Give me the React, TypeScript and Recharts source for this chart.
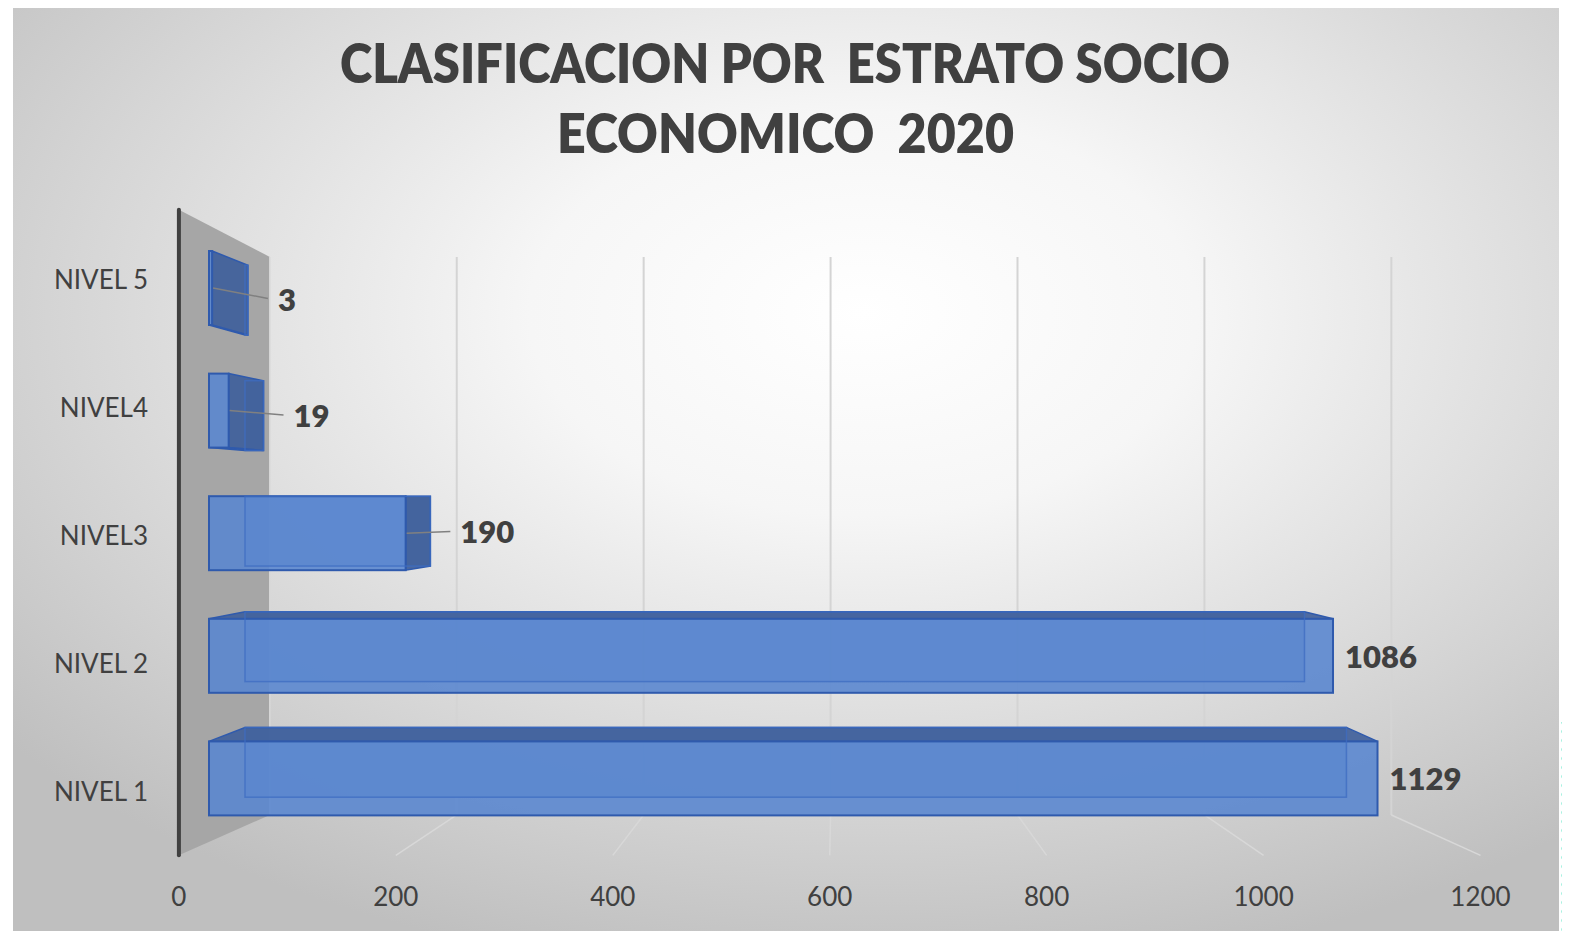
import React from 'react';
import { BarChart, Bar, XAxis, YAxis, CartesianGrid, LabelList } from 'recharts';

// ---- data ----
const categories = ['NIVEL 1', 'NIVEL 2', 'NIVEL3', 'NIVEL4', 'NIVEL 5'];
const values = [1129, 1086, 190, 19, 3];
const xTicks = [0, 200, 400, 600, 800, 1000, 1200];
const titleLines = ['CLASIFICACION POR  ESTRATO SOCIO', 'ECONOMICO  2020'];

const data = categories.map((name, i) => ({ name, value: values[i] }));

// ---- layout / perspective ----
const CHART_LEFT = 13;
const CHART_TOP = 5;
const W = 1546;
const H = 934;
const VX = 823;
const VY = 493;
const S_BACK_BAR = 0.9426;
const S_WALL = 0.903;
const S_FLOOR = 1.048;
const S_SIDE = 1.045;
const FONT = 'Lato, "Open Sans", sans-serif';
const TEXT = '#404040';

const proj = (x: number, y: number, s: number): [number, number] => [VX + (x - VX) * s, VY + (y - VY) * s];

const gridLine = (p: any) => {
  const { x1, y1, y2, index } = p;
  const top = y1 + 4;
  const bot = y2 + 9;
  const [bx, bt] = proj(x1, top, S_WALL);
  const [, bb] = proj(x1, bot, S_WALL);
  const [fx, fb] = proj(x1, y2 - 1, S_FLOOR);
  if (index === 0) {
    const [wx, wt] = proj(x1, y1 - 4, S_FLOOR);
    return (
      <g key={`g-${index}`}>
        <polygon points={`${wx},${wt} ${bx},${bt} ${bx},${bb} ${wx},${fb}`} fill="#a6a6a6" />
        <line x1={bx} y1={bt} x2={bx} y2={bb} stroke="#d9d9d9" strokeWidth={1.5} />
        <line x1={wx} y1={wt} x2={wx} y2={fb} stroke="#404040" strokeWidth={4} strokeLinecap="round" />
      </g>
    );
  }
  return (
    <g key={`g-${index}`}>
      <line x1={bx} y1={bt} x2={bx} y2={bb} stroke="#d4d4d4" strokeWidth={2} />
      <line x1={bx} y1={bb} x2={fx} y2={fb} stroke="#d8d8d8" strokeWidth={1.5} />
    </g>
  );
};

const FRONT = '#5b87cf';
const SIDE = '#41619b';
const EDGE = '#2f5aad';

const Box3D = (p: any) => {
  const { x, y, width, height } = p;
  if (width == null || height == null) return null;
  const x2 = x + width;
  const y2 = y + height;
  const [bx0, by0] = proj(x, y, S_BACK_BAR);
  const [bx1, by1] = proj(x2, y2, S_BACK_BAR);
  const faces: any[] = [];
  if (by0 < y) {
    faces.push(<polygon key="t" points={`${x},${y} ${x2},${y} ${bx1},${by0} ${bx0},${by0}`} fill={SIDE} fillOpacity={0.92} stroke={EDGE} strokeWidth={1.5} />);
  }
  if (by1 > y2) {
    faces.push(<polygon key="b" points={`${x},${y2} ${x2},${y2} ${bx1},${by1} ${bx0},${by1}`} fill={SIDE} fillOpacity={0.92} stroke={EDGE} strokeWidth={1.5} />);
  }
  if (bx1 > x2) {
    faces.push(<polygon key="r" points={`${x2},${y} ${bx1},${by0} ${bx1},${by1} ${x2},${y2}`} fill={SIDE} fillOpacity={0.95} stroke={EDGE} strokeWidth={1.5} />);
  }
  return (
    <g>
      <rect x={bx0} y={by0} width={Math.max(bx1 - bx0, 0.5)} height={by1 - by0} fill="#4f7cc8" fillOpacity={0.7} />
      {faces}
      <rect x={x} y={y} width={Math.max(width, 0.5)} height={height} fill={FRONT} fillOpacity={0.9} stroke={EDGE} strokeWidth={2} />
      <rect x={bx0} y={by0} width={Math.max(bx1 - bx0, 0.5)} height={by1 - by0} fill="none" stroke="#3e6cc2" strokeOpacity={0.75} strokeWidth={1.5} />
    </g>
  );
};

const renderLabel = (p: any) => {
  const vb = p.viewBox && p.viewBox.width != null ? p.viewBox : p;
  const { x, y, width, height } = vb;
  const value = p.value;
  if (x == null) return null;
  const fx = x + width;
  const cy = y + height / 2;
  const [bx1] = proj(fx, y + height, S_BACK_BAR);
  const style = { fontFamily: FONT, fontWeight: 800, fontSize: 31, fill: TEXT } as any;
  if (bx1 <= fx + 1) {
    return (
      <text x={fx + 12} y={cy} dominantBaseline="central" style={style}>
        {value}
      </text>
    );
  }
  const [, ly] = proj(fx, cy, 0.95);
  const ex = bx1 + 20;
  return (
    <g>
      <line x1={fx + 1} y1={cy} x2={ex} y2={ly} stroke="#808080" strokeWidth={1.5} />
      <text x={ex + 10} y={ly} dominantBaseline="central" style={style}>
        {value}
      </text>
    </g>
  );
};

const XTick = (p: any) => {
  const [tx] = proj(p.x, 0, S_FLOOR);
  return (
    <text x={tx} y={891} textAnchor="middle" dominantBaseline="central" style={{ fontFamily: FONT, fontSize: 26, fill: TEXT }}>
      {p.payload.value}
    </text>
  );
};

const YTick = (p: any) => {
  const [, ty] = proj(0, p.y, S_SIDE);
  return (
    <text x={135} y={ty} textAnchor="end" dominantBaseline="central" style={{ fontFamily: FONT, fontSize: 26, fill: TEXT }}>
      {p.payload.value}
    </text>
  );
};

export default function App() {
  return (
    <div style={{ position: 'relative', width: 1554, height: 923 }}>
      <svg width={1570} height={939} style={{ position: 'absolute', left: -8, top: -8 }}>
        <defs>
          <radialGradient id="bg" cx="0.55" cy="0.33" r="0.72">
            <stop offset="0" stopColor="#ffffff" />
            <stop offset="0.3" stopColor="#f6f6f6" />
            <stop offset="1" stopColor="#bfbfbf" />
          </radialGradient>
          <pattern id="dots" x="1560" y="718" width="9" height="9" patternUnits="userSpaceOnUse">
            <circle cx="4.5" cy="4.5" r="3" fill="#55e4c4" />
          </pattern>
        </defs>
        <rect x={13} y={5} width={1546} height={934} fill="url(#bg)" />
        <line x1={13} y1={5.5} x2={1559} y2={5.5} stroke="#bdbdbd" strokeWidth={1} />
        <rect x={1561} y={722} width={9} height={217} fill="url(#dots)" />
        <text x={785} y={83} textAnchor="middle" textLength={890} lengthAdjust="spacingAndGlyphs"
          style={{ fontFamily: FONT, fontWeight: 800, fontSize: 54, fill: TEXT, whiteSpace: 'pre' }}>
          {titleLines[0]}
        </text>
        <text x={785.5} y={153} textAnchor="middle" textLength={457} lengthAdjust="spacingAndGlyphs"
          style={{ fontFamily: FONT, fontWeight: 800, fontSize: 54, fill: TEXT, whiteSpace: 'pre' }}>
          {titleLines[1]}
        </text>
      </svg>
      <div style={{ position: 'absolute', left: CHART_LEFT - 8, top: CHART_TOP - 8 }}>
        <BarChart
          width={W}
          height={H}
          data={data}
          layout="vertical"
          margin={{ top: 222, right: 108, bottom: 59, left: 76 }}
        >
          <CartesianGrid horizontal={false} vertical={gridLine} />
          <XAxis
            type="number"
            domain={[0, 1200]}
            ticks={xTicks}
            interval={0}
            axisLine={false}
            tickLine={false}
            height={40}
            tick={XTick}
          />
          <YAxis
            type="category"
            dataKey="name"
            reversed
            width={120}
            axisLine={false}
            tickLine={false}
            tick={YTick}
            interval={0}
          />
          <Bar dataKey="value" barSize={74} shape={Box3D} isAnimationActive={false}>
            <LabelList dataKey="value" content={renderLabel} />
          </Bar>
        </BarChart>
      </div>
    </div>
  );
}
